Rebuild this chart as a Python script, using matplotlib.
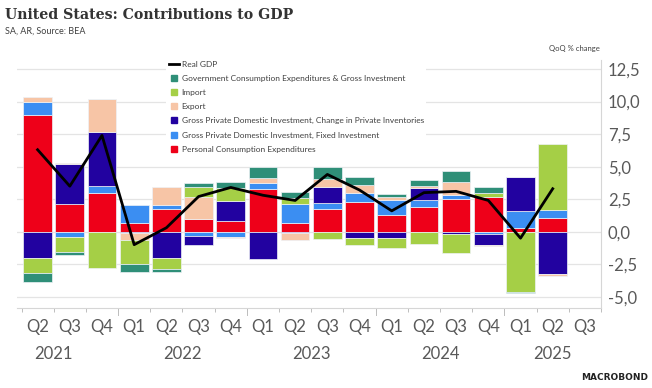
import numpy as np
import matplotlib
matplotlib.use("Agg")
import matplotlib.pyplot as plt
from matplotlib.lines import Line2D
from matplotlib.transforms import blended_transform_factory

# contributions to real GDP growth, percentage points (SA, AR)
quarters = ["Q2", "Q3", "Q4", "Q1", "Q2", "Q3", "Q4", "Q1", "Q2",
            "Q3", "Q4", "Q1", "Q2", "Q3", "Q4", "Q1", "Q2", "Q3"]
years = ["2021", "2022", "2023", "2024", "2025"]

pce = [8.97, 2.12, 3.00, 0.64, 1.72, 0.98, 0.82, 3.26, 0.65,
       1.72, 2.31, 1.28, 1.88, 2.49, 2.69, 0.31, 1.08]
fixed_inv = [1.03, -0.38, 0.54, 1.41, 0.33, -0.33, -0.38, 0.52, 1.48,
             0.46, 0.64, 1.16, 0.56, 0.33, -0.20, 1.31, 0.57]
inventories = [-2.00, 3.08, 4.10, -0.10, -2.00, -0.69, 1.50, -2.12, -0.10,
               1.28, -0.46, -0.51, 0.95, -0.18, -0.82, 2.56, -3.25]
exports = [0.34, 0.05, 2.54, -0.55, 1.41, 1.67, -0.10, 0.35, -0.55,
           0.57, 0.64, 0.20, 0.10, 1.03, -0.05, 0.05, -0.13]
imports = [-1.15, -1.20, -2.79, -1.83, -0.87, 0.81, 1.04, 0.00, 0.44,
           -0.59, -0.56, -0.77, -0.97, -1.44, 0.31, -4.66, 5.08]
government = [-0.74, -0.23, 0.00, -0.62, -0.26, 0.31, 0.45, 0.85, 0.46,
              0.92, 0.59, 0.26, 0.52, 0.84, 0.46, -0.08, -0.05]
real_gdp = [6.3, 3.5, 7.4, -1.0, 0.3, 2.7, 3.4, 2.8, 2.4,
            4.4, 3.2, 1.6, 3.0, 3.1, 2.4, -0.5, 3.3]

series = [
    ("Personal Consumption Expenditures", pce, "#ee0019"),
    ("Gross Private Domestic Investment, Fixed Investment", fixed_inv, "#3b8ef2"),
    ("Gross Private Domestic Investment, Change in Private Inventories", inventories, "#2202a0"),
    ("Export", exports, "#f7c5a6"),
    ("Import", imports, "#a5cf46"),
    ("Government Consumption Expenditures & Gross Investment", government, "#2f8f78"),
]

GREY_TXT = "#595959"
GRID = "#e4e4e4"
FONT = ["Lato", "DejaVu Sans"]
plt.rcParams["font.family"] = FONT

fig = plt.figure(figsize=(6.52, 3.88), dpi=100)
ax = fig.add_axes([17 / 652, 80 / 388, 584 / 652, 248 / 388])

x = np.arange(len(real_gdp))
pos_base = np.zeros(len(x))
neg_base = np.zeros(len(x))
for name, vals, col in series:
    v = np.array(vals, dtype=float)
    base = np.where(v >= 0, pos_base, neg_base)
    ax.bar(x, v, bottom=base, width=0.89, color=col,
           edgecolor="#eef2f6", linewidth=0.5, zorder=2)
    pos_base = pos_base + np.where(v >= 0, v, 0)
    neg_base = neg_base + np.where(v < 0, v, 0)

ax.plot(x, real_gdp, color="black", lw=2.0, zorder=3)

ax.set_xlim(-0.64, 17.5)
ax.set_ylim(-5.87, 13.2)

# y axis on the right, comma decimals
yt = np.arange(-5, 12.6, 2.5)
ax.set_yticks(yt)
ax.set_yticklabels([f"{v:.1f}".replace(".", ",") for v in yt])
ax.yaxis.tick_right()
ax.tick_params(axis="y", length=0, pad=5, labelsize=12, labelcolor=GREY_TXT)
ax.grid(axis="y", color=GRID, lw=0.9)
ax.set_axisbelow(True)

for s in ["top", "left"]:
    ax.spines[s].set_visible(False)
for s in ["right", "bottom"]:
    ax.spines[s].set_color("#d6d6d6")
    ax.spines[s].set_linewidth(0.8)

# quarter labels at bar centres, ticks at quarter boundaries
ax.set_xticks(np.arange(len(quarters)))
ax.set_xticklabels(quarters)
ax.tick_params(axis="x", length=0, pad=8, labelsize=12, labelcolor=GREY_TXT)
ax.set_xticks(np.arange(len(quarters) + 1) - 0.5, minor=True)
ax.tick_params(axis="x", which="minor", length=3, color="#bdbdbd", width=0.7)

trans = blended_transform_factory(ax.transData, ax.transAxes)
for b in [2.5, 6.5, 10.5, 14.5]:
    ax.plot([b, b], [0, -0.03], transform=trans, color="#bdbdbd",
            lw=0.7, clip_on=False)

year_pos = [0.5, 4.5, 8.5, 12.5, 16.0]
for yr, xp in zip(years, year_pos):
    ax.text(xp, -0.187, yr, transform=trans, ha="center", va="center",
            fontsize=12, color=GREY_TXT)

# legend
handles = [Line2D([0], [0], color="black", lw=2.0)]
labels = ["Real GDP"]
for name, vals, col in reversed(series):
    handles.append(Line2D([0], [0], ls="none", marker="s", markersize=4,
                          markerfacecolor=col, markeredgecolor=col))
    labels.append(name)
leg = ax.legend(handles, labels, loc="upper left",
                bbox_to_anchor=(162 / 652, 1 - 54 / 388),
                bbox_transform=fig.transFigure, fontsize=6,
                frameon=True, fancybox=False, handlelength=1.2,
                handletextpad=0.35, labelspacing=0.86, borderpad=0.3)
leg.get_frame().set_facecolor("white")
leg.get_frame().set_edgecolor("none")
leg.get_frame().set_alpha(1)
for t in leg.get_texts():
    t.set_color("#404040")

# value tag for the last quarter
ax.annotate("3,30%\n2025 Q2", xy=(1.0, real_gdp[-1]), xycoords=trans,
            xytext=(8, 0), textcoords="offset points", ha="left", va="center",
            fontsize=5.5, color="#333333", linespacing=1.4,
            bbox=dict(boxstyle="square,pad=0.45", fc="white", ec="#c8c8c8", lw=0.6),
            zorder=5, annotation_clip=False)

fig.text(5 / 652, 1 - 15 / 388, "United States: Contributions to GDP",
         family=["DejaVu Serif"], fontweight="bold", fontsize=10.2,
         color="#333333", va="center", ha="left")
fig.text(5 / 652, 1 - 31 / 388, "SA, AR, Source: BEA", fontsize=6.5,
         color="#404040", va="center", ha="left")
fig.text(600 / 652, 1 - 48 / 388, "QoQ % change", fontsize=5.5,
         color="#404040", va="center", ha="right")
fig.text(648 / 652, 1 - 377 / 388, "MACROBOND", family=["DejaVu Sans"],
         fontweight="bold", fontsize=6.5, color="#222222",
         va="center", ha="right")

fig.savefig("out.png", dpi=100)
